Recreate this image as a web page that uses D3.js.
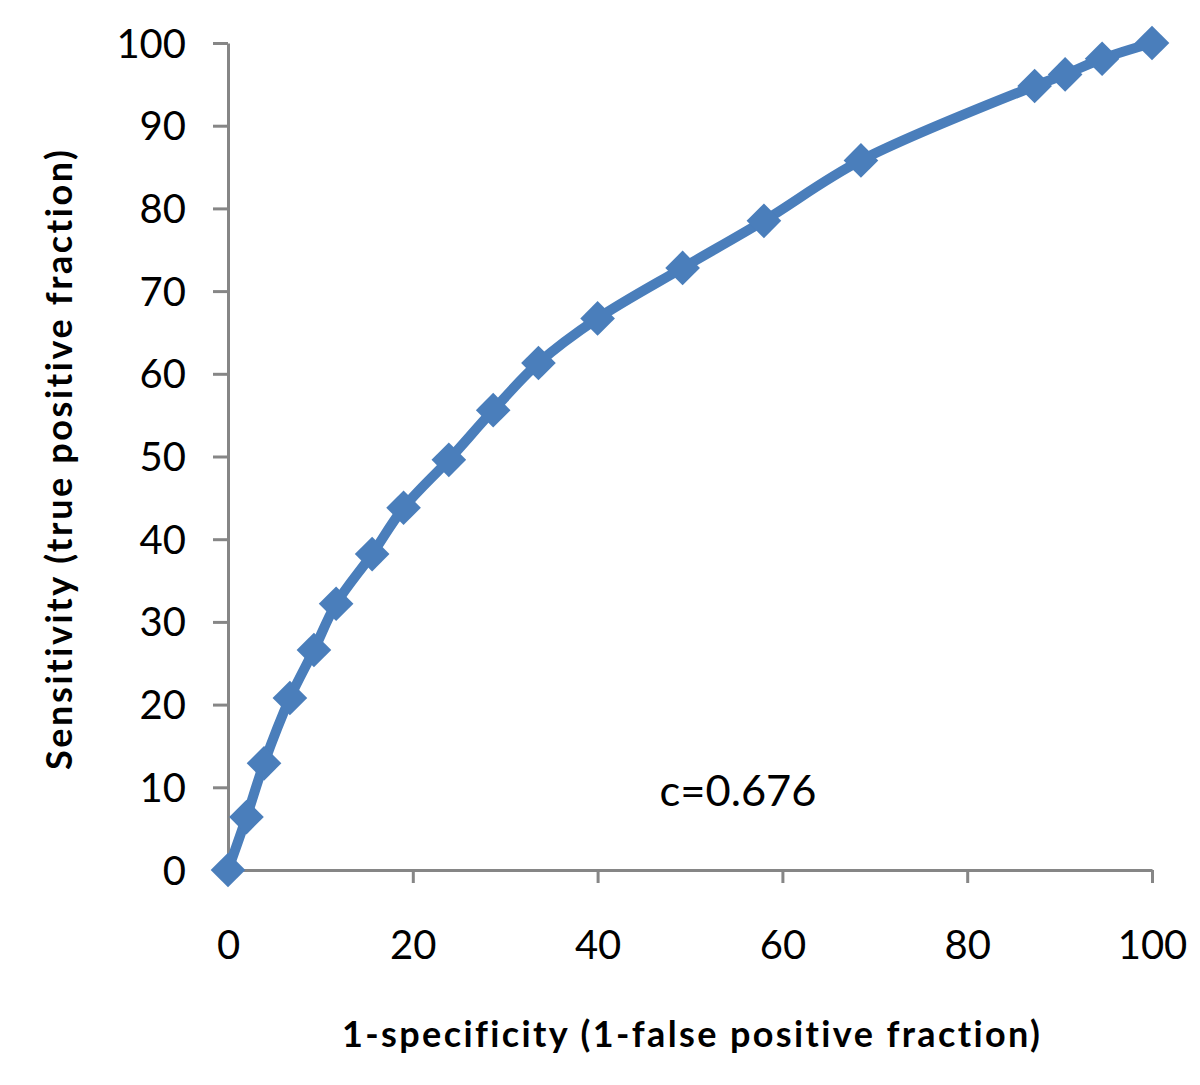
<!DOCTYPE html>
<html><head><meta charset="utf-8">
<script src="https://cdn.jsdelivr.net/npm/d3@7"></script>
<style>body{margin:0;background:#fff}svg{display:block}text{font-variant-ligatures:none;font-feature-settings:"liga" 0}</style>
</head><body>
<svg id="c" width="1200" height="1085"></svg>
<script>
const fpf = [0, 2.0, 3.9, 6.7, 9.3, 11.7, 15.6, 19.0, 23.9, 28.7, 33.6, 40.0, 49.2, 58.0, 68.5, 87.3, 90.6, 94.6, 100];
const tpf = [0, 6.4, 12.9, 20.8, 26.6, 32.2, 38.2, 43.8, 49.6, 55.6, 61.3, 66.7, 72.8, 78.5, 85.8, 94.8, 96.2, 98.1, 100];
const xTicks = [0, 20, 40, 60, 80, 100];
const yTicks = [0, 10, 20, 30, 40, 50, 60, 70, 80, 90, 100];
const xTitle = "1-specificity (1-false positive fraction)";
const yTitle = "Sensitivity (true positive fraction)";
const note = "c=0.676";

const svg = d3.select("#c");
const font = "Lato, 'Open Sans', sans-serif";
const x = d3.scaleLinear().domain([0, 100]).range([228, 1152]);
const y = d3.scaleLinear().domain([0, 100]).range([870, 43]);
const axisColor = "#868686";

const gx = svg.append("g").attr("transform", `translate(0,${y(0)})`)
  .call(d3.axisBottom(x).tickValues(xTicks).tickSize(13).tickSizeOuter(0).tickPadding(48));
const gy = svg.append("g").attr("transform", `translate(${x(0)},0)`)
  .call(d3.axisLeft(y).tickValues(yTicks).tickSize(15).tickSizeOuter(0).tickPadding(27));
[gx, gy].forEach(g => {
  g.select(".domain").attr("stroke", axisColor).attr("stroke-width", 3);
  g.selectAll(".tick line").attr("stroke", axisColor).attr("stroke-width", 3);
  g.selectAll(".tick text").attr("fill", "#000").style("font-family", font).style("font-size", "40px");
});
gy.selectAll(".tick text").attr("dy", "0.35em");

const data = fpf.map((v, i) => [v, tpf[i]]);
svg.append("path").datum(data)
  .attr("d", d3.line().x(d => x(d[0])).y(d => y(d[1])).curve(d3.curveCatmullRom.alpha(0.5)))
  .attr("fill", "none").attr("stroke", "#4A7EBB").attr("stroke-width", 10).attr("stroke-linejoin", "round");

svg.append("g").selectAll("path").data(data).join("path")
  .attr("transform", d => `translate(${x(d[0])},${y(d[1])}) rotate(45)`)
  .attr("d", d3.symbol().type(d3.symbolSquare).size(600)())
  .attr("fill", "#4A7EBB");

svg.append("text").attr("x", 738).attr("y", 806).attr("text-anchor", "middle")
  .attr("textLength", 157).attr("lengthAdjust", "spacingAndGlyphs")
  .style("font-family", font).style("font-size", "42px").text(note);

svg.append("text").attr("x", 691).attr("y", 1047).attr("text-anchor", "middle")
  .attr("textLength", 698).attr("lengthAdjust", "spacing")
  .style("font-family", font).style("font-weight", "bold").style("font-size", "36px").text(xTitle);

svg.append("text").attr("transform", "translate(72,460) rotate(-90)").attr("text-anchor", "middle")
  .attr("textLength", 620).attr("lengthAdjust", "spacing")
  .style("font-family", font).style("font-weight", "bold").style("font-size", "36px").text(yTitle);
</script>
</body></html>
